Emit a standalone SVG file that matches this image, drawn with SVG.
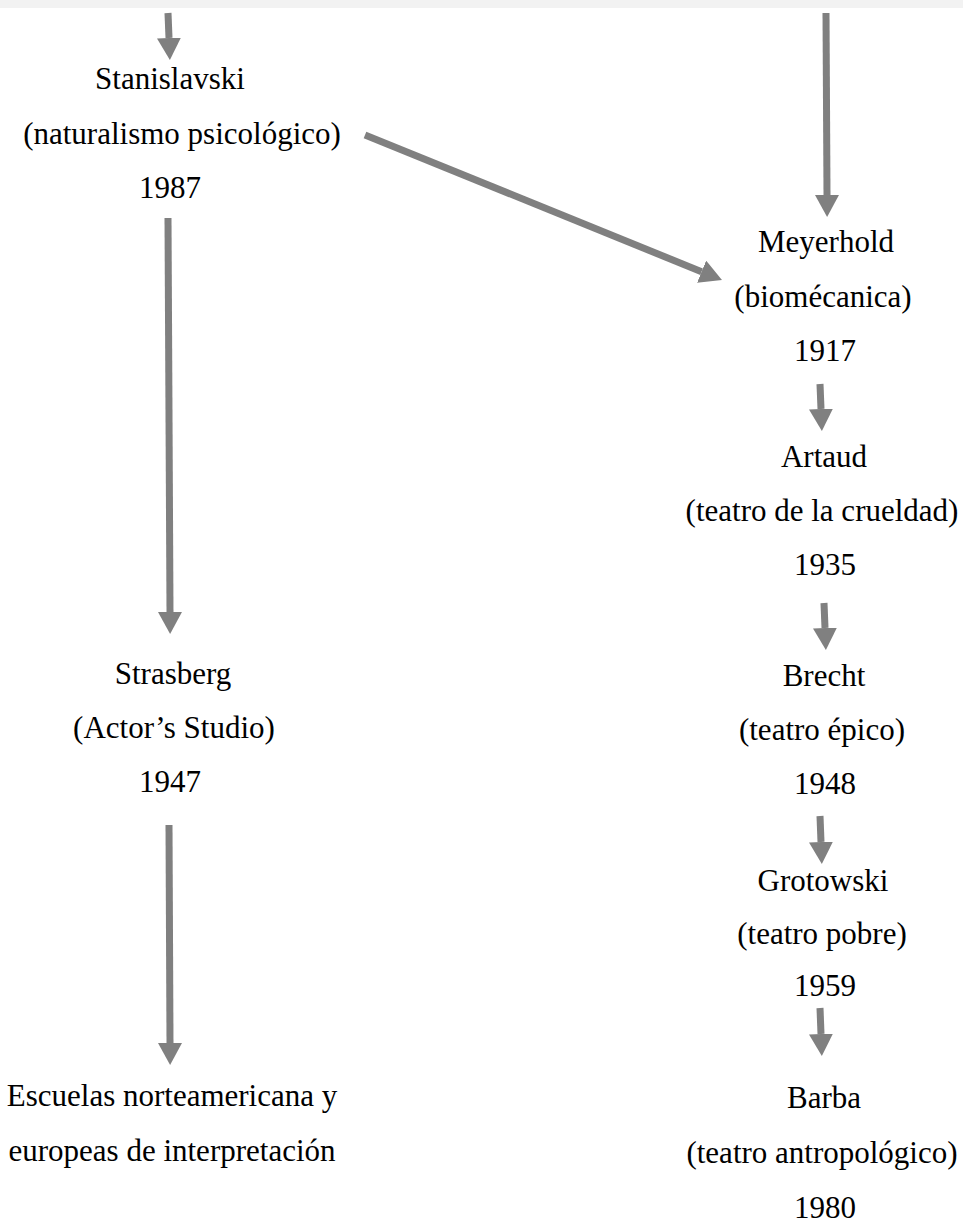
<svg xmlns="http://www.w3.org/2000/svg" width="963" height="1224" viewBox="0 0 963 1224">
<defs>
<style>
.t{font-family:"Liberation Serif","Times New Roman",serif;font-size:31px;fill:#000;text-anchor:middle}
.c{stroke:#808080;stroke-width:7;fill:none;marker-end:url(#ah)}
</style>
<marker id="ah" markerUnits="userSpaceOnUse" markerWidth="22" markerHeight="24" viewBox="0 0 22 24" refX="0" refY="12" orient="auto">
<path d="M0,0 L22,12 L0,24 z" fill="#808080"/>
</marker>
</defs>
<rect x="0" y="0" width="963" height="1224" fill="#fff"/>
<rect x="0" y="0" width="963" height="8" fill="#f2f2f2"/>
<g id="connectors">
<line class="c" x1="168" y1="13" x2="169" y2="38"/>
<line class="c" x1="826" y1="13" x2="827" y2="195"/>
<line class="c" x1="365" y1="135" x2="701.6" y2="271.7"/>
<line class="c" x1="168" y1="218" x2="170" y2="612"/>
<line class="c" x1="169" y1="825" x2="170" y2="1043"/>
<line class="c" x1="820" y1="384" x2="821" y2="409"/>
<line class="c" x1="824" y1="603" x2="825" y2="628"/>
<line class="c" x1="820" y1="816" x2="821" y2="842"/>
<line class="c" x1="820" y1="1008" x2="821" y2="1034"/>
</g>
<g id="stanislavski">
<text class="t" x="170" y="89">Stanislavski</text>
<text class="t" x="182" y="144">(naturalismo psicológico)</text>
<text class="t" x="170" y="198">1987</text>
</g>
<g id="meyerhold">
<text class="t" x="826" y="252">Meyerhold</text>
<text class="t" x="823" y="307">(biomécanica)</text>
<text class="t" x="825" y="361">1917</text>
</g>
<g id="artaud">
<text class="t" x="824" y="467">Artaud</text>
<text class="t" x="822" y="521">(teatro de la crueldad)</text>
<text class="t" x="825" y="575">1935</text>
</g>
<g id="strasberg">
<text class="t" x="173" y="684">Strasberg</text>
<text class="t" x="174" y="738">(Actor’s Studio)</text>
<text class="t" x="170" y="792">1947</text>
</g>
<g id="brecht">
<text class="t" x="824" y="686">Brecht</text>
<text class="t" x="822" y="740">(teatro épico)</text>
<text class="t" x="825" y="794">1948</text>
</g>
<g id="grotowski">
<text class="t" x="823" y="891">Grotowski</text>
<text class="t" x="822" y="944">(teatro pobre)</text>
<text class="t" x="825" y="996">1959</text>
</g>
<g id="escuelas">
<text class="t" x="172" y="1106">Escuelas norteamericana y</text>
<text class="t" x="172" y="1161">europeas de interpretación</text>
</g>
<g id="barba">
<text class="t" x="824" y="1108">Barba</text>
<text class="t" x="822" y="1163">(teatro antropológico)</text>
<text class="t" x="825" y="1218">1980</text>
</g>
</svg>
